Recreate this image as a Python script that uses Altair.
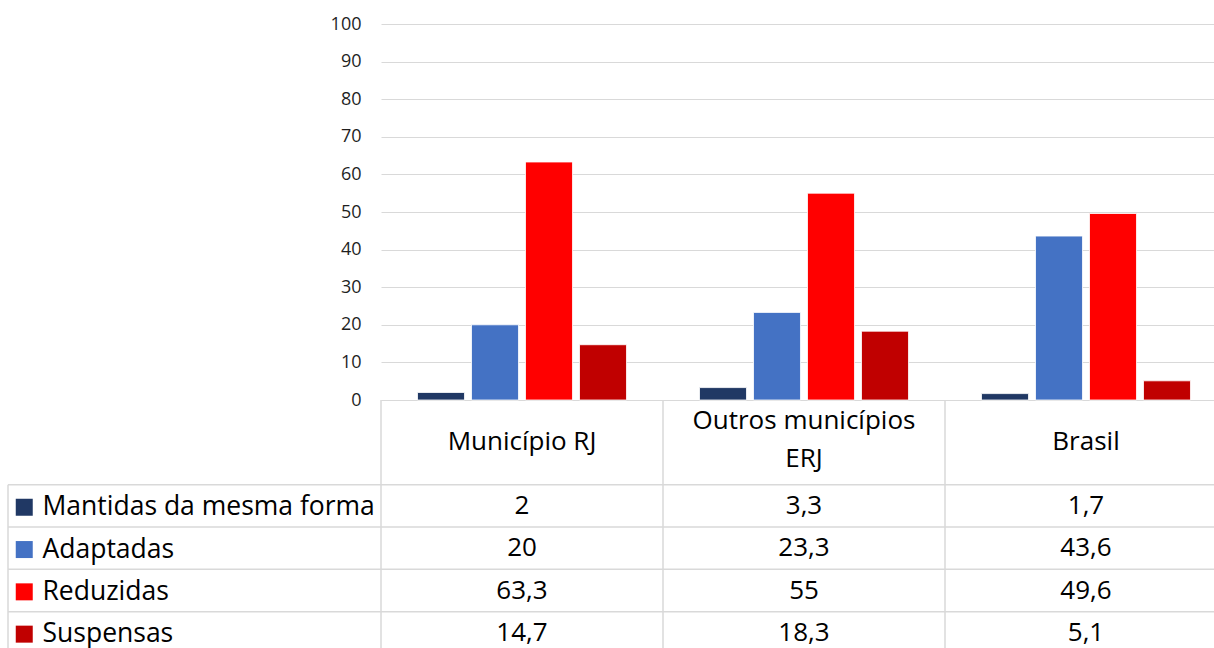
import altair as alt
import pandas as pd

# ---- data ----
categories = ["Município RJ", "Outros municípios ERJ", "Brasil"]
header_labels = ["Município RJ", "Outros municípios\nERJ", "Brasil"]
series = ["Mantidas da mesma forma", "Adaptadas", "Reduzidas", "Suspensas"]
colors = ["#203864", "#4472C4", "#FF0000", "#C00000"]
mantidas = [2, 3.3, 1.7]
adaptadas = [20, 23.3, 43.6]
reduzidas = [63.3, 55, 49.6]
suspensas = [14.7, 18.3, 5.1]
y_ticks = [0, 10, 20, 30, 40, 50, 60, 70, 80, 90, 100]

values = [mantidas, adaptadas, reduzidas, suspensas]
records = []
for s, vals in zip(series, values):
    for c, v in zip(categories, vals):
        records.append({"cat": c, "series": s, "value": v,
                        "label": f"{v:g}".replace(".", ",")})
df = pd.DataFrame(records)
hdr = pd.DataFrame({"cat": categories, "text": header_labels})
hdr["lines"] = hdr["text"].str.count("\n") + 1
hdr_single = hdr[hdr["lines"] == 1].assign(row="h2")
hdr_multi = hdr[hdr["lines"] > 1].assign(row="h1")
cat_df = pd.DataFrame({"cat": categories, "row": "h1"})
row_df = pd.DataFrame({"row": series})

FONT = "Open Sans"
GRID = "#d9d9d9"
rows = ["h1", "h2"] + series

xscale = alt.Scale(domain=categories, range=[0, 846], paddingInner=0, paddingOuter=0)


def tscale():
    return alt.Scale(type="band", domain=rows, range=[376, 630], paddingInner=0, paddingOuter=0)


bars = alt.Chart(df).mark_bar(stroke="white", strokeWidth=0.8).encode(
    x=alt.X("cat:N", scale=xscale, sort=categories,
            axis=alt.Axis(labels=False, ticks=False, title=None, domainColor=GRID, grid=False)),
    xOffset=alt.XOffset("series:N", sort=series,
                        scale=alt.Scale(domain=series, paddingInner=0.13, paddingOuter=0.676)),
    y=alt.Y("value:Q", scale=alt.Scale(domain=[0, 100]),
            axis=alt.Axis(values=y_ticks, title=None, domain=False, ticks=False, tickSize=0,
                          labelPadding=20, labelFont=FONT, labelFontSize=18, labelColor="#1f1f1f",
                          gridColor=GRID, gridWidth=1)),
    color=alt.Color("series:N", sort=series, scale=alt.Scale(domain=series, range=colors),
                    legend=alt.Legend(orient="none", legendX=-370, legendY=470, title=None,
                                      symbolType="square", symbolSize=289, symbolStrokeWidth=0,
                                      labelFont=FONT, labelFontSize=26.5, labelColor="black",
                                      labelLimit=600, labelOffset=5, rowPadding=15.3, padding=0)),
)

hlines = alt.Chart(row_df).mark_rule(color=GRID, strokeWidth=1.5).encode(
    y=alt.Y("row:N", bandPosition=0, scale=tscale(), axis=None),
    x=alt.value(-373), x2=alt.value(846),
)

vlines = alt.Chart(cat_df).mark_rule(color=GRID, strokeWidth=1.5).encode(
    x=alt.X("cat:N", bandPosition=0, scale=xscale, sort=categories),
    y=alt.Y("row:N", bandPosition=0, scale=tscale(), axis=None),
    y2=alt.value(640),
)

left_line = alt.Chart(row_df.head(1)).mark_rule(color=GRID, strokeWidth=1.5).encode(
    x=alt.value(-373),
    y=alt.Y("row:N", bandPosition=0, scale=tscale(), axis=None),
    y2=alt.value(640),
)

text_props = dict(font=FONT, fontSize=26, color="black", baseline="middle", align="center")

header_single = alt.Chart(hdr_single).mark_text(**text_props).encode(
    x=alt.X("cat:N", scale=xscale, sort=categories),
    y=alt.Y("row:N", bandPosition=0, scale=tscale(), axis=None),
    text="text:N",
)

header_multi = alt.Chart(hdr_multi).mark_text(lineBreak="\n", lineHeight=38, **text_props).encode(
    x=alt.X("cat:N", scale=xscale, sort=categories),
    y=alt.Y("row:N", scale=tscale(), axis=None),
    text="text:N",
)

cells = alt.Chart(df).mark_text(**text_props).encode(
    x=alt.X("cat:N", scale=xscale, sort=categories),
    y=alt.Y("series:N", scale=tscale(), axis=None),
    text="label:N",
)

chart = alt.layer(bars, hlines, vlines, left_line, header_single, header_multi, cells).resolve_scale(
    y="independent", color="independent"
).properties(
    width=833, height=376,
    padding={"left": 381, "top": 24, "right": 0, "bottom": 248},
    autosize=alt.AutoSizeParams(type="none"),
).configure_view(stroke=None)

chart.save("out.html", embed_options={"renderer": "svg", "actions": False})
